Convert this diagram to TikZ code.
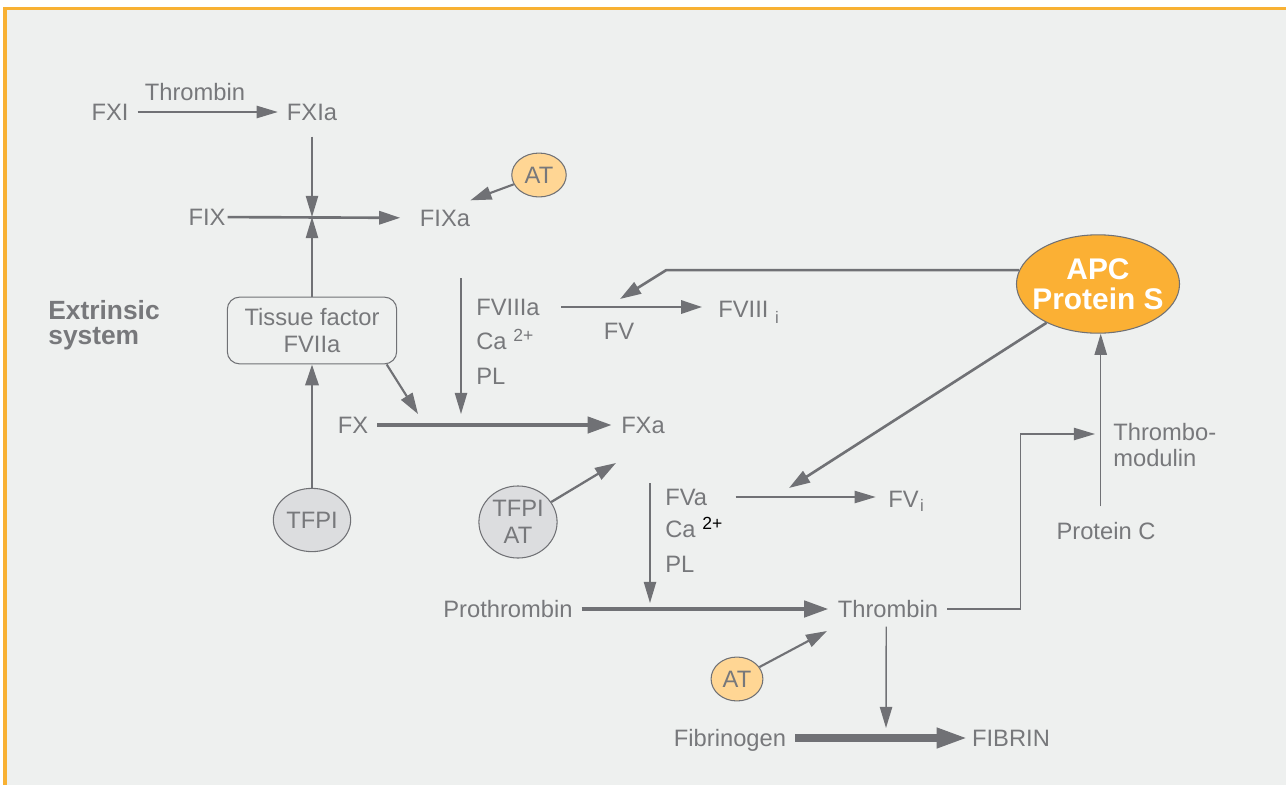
\documentclass[tikz,border=0pt]{standalone}
\usepackage{fontspec}
\setmainfont{Liberation Sans}
\usetikzlibrary{arrows.meta,shapes.geometric}

\definecolor{bggray}{HTML}{EEF0EF}
\definecolor{linegray}{HTML}{707175}
\definecolor{txtgray}{HTML}{77787B}
\definecolor{frameorange}{HTML}{F8B133}
\definecolor{apcorange}{HTML}{FBB034}
\definecolor{atorange}{HTML}{FFD694}
\definecolor{tfpigray}{HTML}{DCDDDF}

\newcommand{\supsmall}[1]{\raisebox{4.3pt}{\fontsize{10}{11}\selectfont #1}}
\newcommand{\subsmall}[1]{\raisebox{-3.5pt}{\fontsize{9.5}{10}\selectfont #1}}

\begin{document}
\begin{tikzpicture}[x=0.02cm,y=-0.02cm,
    lbl/.style={text=txtgray,font=\fontsize{13.5}{15}\selectfont,
      text height=9.7pt,text depth=0pt,inner sep=5pt},
    stk/.style={lbl,anchor=west,inner sep=0pt},
    blob/.style={ellipse,draw=linegray,line width=0.6pt,inner sep=0pt,
      text=txtgray,font=\fontsize{13.5}{15.3}\selectfont,align=center},
    thinarr/.style={draw=linegray,line width=0.8pt,-{Triangle[length=12pt,width=7pt]}},
    midarr/.style={draw=linegray,line width=1.5pt,-{Triangle[length=12pt,width=7.5pt]}},
    fatarr/.style={draw=linegray,line width=2.8pt,-{Triangle[length=14pt,width=9pt]}},
    hugearr/.style={draw=linegray,line width=4.5pt,-{Triangle[length=18pt,width=10.5pt]}}]
  \useasboundingbox (0,0) rectangle (1286,785);
  \fill[white] (0,0) rectangle (1286,785);
  \fill[bggray] (5,8.5) rectangle (1286,785);
  \draw[frameorange,line width=1.8pt] (5,785) -- (5,8.5) -- (1286,8.5);

  % intrinsic part
  \node[lbl] (fxi) at (110,112) {FXI};
  \node[lbl] (fxia) at (312,112) {FXIa};
  \node[lbl] (thrlbl) at (195,92) {Thrombin};
  \node[lbl,inner sep=1pt] (fix) at (207,217) {FIX};
  \node[lbl] (fixa) at (445,218) {FIXa};
  \node[blob,fill=atorange,minimum width=31pt,minimum height=25pt] (atix) at (539,175) {AT};
  \coordinate (fixj) at (312,217);

  % extrinsic part
  \node[text=txtgray,font=\bfseries\fontsize{15}{14.5}\selectfont,align=left,
    anchor=west,inner sep=0pt] (extr) at (48,325) {Extrinsic\\system};
  \node[draw=linegray,line width=0.6pt,rounded corners=7pt,minimum width=96.4pt,
    minimum height=38pt,inner sep=0pt,text=txtgray,
    font=\fontsize{13.5}{15.3}\selectfont,align=center] (tf) at (312,330.5) {Tissue factor\\FVIIa};
  \node[blob,fill=tfpigray,minimum width=44pt,minimum height=36pt] (tfpi) at (312,520) {TFPI};

  \node[lbl] (fx) at (353,425) {FX};
  \node[lbl] (fxa) at (643,425) {FXa};
  \coordinate (fxin) at (418,414);
  \coordinate (viiitop) at (461,278);
  \coordinate (viiiin) at (461,414);

  \node[stk] (fviiia) at (476,307) {FVIIIa};
  \node[stk] (caviii) at (476,341) {Ca\ \supsmall{2+}};
  \node[stk] (plviii) at (476,376) {PL};
  \node[stk] (fviiii) at (718,309) {FVIII\ \subsmall{i}};
  \node[lbl] (fvlbl) at (619,331) {FV};

  % APC
  \node[ellipse,fill=apcorange,draw=linegray,line width=0.6pt,inner xsep=-4.5pt,
    inner ysep=0pt,minimum height=56pt,text=white,align=center,
    font=\bfseries\fontsize{17}{17}\selectfont] (apc) at (1098,284) {APC\\Protein S};
  \coordinate (fviiiin) at (620,299);
  \coordinate (fvin) at (789,488);

  % common pathway
  \node[blob,fill=tfpigray,minimum width=44.5pt,minimum height=41pt] (tfpiat) at (518,522) {TFPI\\AT};
  \coordinate (fxain) at (616,463);
  \node[stk] (fva) at (665,497) {FVa};
  \node[stk] (cav) at (665,529) {Ca\ \supsmall{\color{black}2+}};
  \node[stk] (plv) at (665,564) {PL};
  \node[stk] (fvi) at (888,499) {FV\kern0.8pt\raisebox{-2.5pt}{\fontsize{9.5}{10}\selectfont i}};
  \coordinate (fvtop) at (650,483);
  \coordinate (fvain) at (650,603);

  \node[lbl] (prothr) at (508,609) {Prothrombin};
  \node[lbl] (thr) at (888,609) {Thrombin};
  \node[text=txtgray,font=\fontsize{13.5}{15.3}\selectfont,align=left,
    anchor=west,inner sep=0pt] (tmod) at (1113,445) {Thrombo-\\modulin};
  \coordinate (tmin) at (1095,434);
  \node[lbl] (protc) at (1106,531) {Protein C};
  \node[blob,fill=atorange,minimum width=29.5pt,minimum height=25pt] (atthr) at (737,679) {AT};
  \coordinate (thrin) at (827,631);
  \coordinate (fibin) at (886,728);
  \node[lbl] (fibrinogen) at (730,738) {Fibrinogen};
  \node[lbl,inner sep=2pt] (fibrin) at (1011,738) {FIBRIN};

  % connectors
  \draw[thinarr] (fxi) -- (fxia);
  \draw[thinarr,shorten <=4pt] (fxia) -- (fixj);
  \draw[midarr,shorten >=6pt] (fix) -- (fixa);
  \draw[thinarr] (tf) -- (fixj);
  \draw[midarr,line width=1.2pt] (atix) -- ([xshift=-5pt]fixa.north east);
  \draw[midarr,line width=1.7pt] (tfpi) -- (tf);
  \draw[midarr,line width=1.2pt] ([xshift=-6pt]tf.south east) -- (fxin);
  \draw[fatarr] (fx) -- (fxa);
  \draw[thinarr] (viiitop) -- (viiiin);
  \draw[midarr,shorten <=12pt,shorten >=9pt] (fviiia.east) -- (fviiia.east -| fviiii.west);
  \draw[midarr] (apc.170) -- ++(-353,0) -- (fviiiin);
  \draw[midarr] (apc.217) -- (fvin);
  \draw[thinarr,shorten <=16pt,shorten >=7pt] (fva.east) -- (fva.east -| fvi.west);
  \draw[thinarr] (fvtop) -- (fvain);
  \draw[midarr,line width=1.3pt] (tfpiat) -- (fxain);
  \draw[fatarr] (prothr) -- (thr);
  \draw[thinarr] (thr.east) -- ++(73,0) |- (tmin);
  \draw[thinarr] ([xshift=-3pt,yshift=4pt]protc.north) -- ([xshift=-3pt]protc.north |- apc.south);
  \draw[thinarr] ([xshift=-1pt]thr.south) -- (fibin);
  \draw[midarr,line width=1.2pt] (atthr) -- (thrin);
  \draw[hugearr] (fibrinogen) -- (fibrin);
\end{tikzpicture}
\end{document}
